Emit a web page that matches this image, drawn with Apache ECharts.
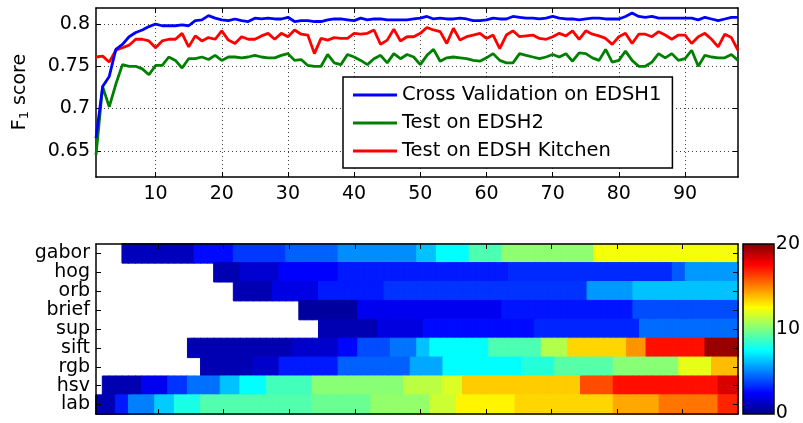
<!DOCTYPE html>
<html>
<head>
<meta charset="utf-8">
<script src="https://cdn.jsdelivr.net/npm/echarts@6/dist/echarts.min.js"></script>
<style>html,body{margin:0;padding:0;background:#fff}#c{width:803px;height:423px}</style>
</head>
<body>
<div id="c"></div>
<script>
// ---------- top panel data (F1 score per iteration, x = 1..98) ----------
const cvEDSH1 = [
0.665,0.726,0.738,0.770,0.776,0.785,0.790,0.793,0.797,0.800,
0.798,0.798,0.798,0.799,0.798,0.804,0.805,0.810,0.807,0.805,
0.804,0.806,0.804,0.803,0.807,0.806,0.807,0.806,0.806,0.808,
0.803,0.804,0.804,0.803,0.803,0.805,0.806,0.806,0.805,0.804,
0.807,0.805,0.806,0.806,0.805,0.805,0.805,0.805,0.806,0.807,
0.809,0.806,0.807,0.806,0.806,0.807,0.806,0.804,0.804,0.805,
0.807,0.806,0.806,0.809,0.808,0.807,0.807,0.806,0.807,0.809,
0.807,0.806,0.806,0.805,0.806,0.807,0.807,0.806,0.806,0.806,
0.809,0.813,0.809,0.808,0.809,0.807,0.807,0.807,0.807,0.807,
0.807,0.805,0.808,0.806,0.804,0.806,0.808,0.808];
const testEDSH2 = [
0.645,0.726,0.702,0.729,0.752,0.750,0.750,0.747,0.740,0.751,
0.751,0.761,0.757,0.748,0.759,0.759,0.761,0.758,0.763,0.757,
0.761,0.761,0.760,0.761,0.763,0.761,0.760,0.760,0.763,0.765,
0.757,0.758,0.751,0.750,0.750,0.764,0.754,0.752,0.764,0.761,
0.757,0.752,0.759,0.763,0.754,0.765,0.759,0.764,0.761,0.752,
0.763,0.770,0.756,0.760,0.761,0.760,0.759,0.757,0.756,0.760,
0.765,0.757,0.754,0.754,0.765,0.763,0.761,0.759,0.761,0.764,
0.761,0.765,0.756,0.766,0.765,0.760,0.757,0.770,0.755,0.757,
0.768,0.757,0.750,0.750,0.755,0.765,0.760,0.765,0.757,0.759,
0.769,0.750,0.763,0.761,0.760,0.760,0.764,0.757];
const testKitchen = [
0.761,0.762,0.755,0.769,0.772,0.775,0.782,0.782,0.780,0.772,
0.780,0.782,0.782,0.789,0.773,0.786,0.780,0.784,0.782,0.792,
0.781,0.777,0.785,0.782,0.782,0.786,0.789,0.782,0.789,0.785,
0.793,0.788,0.787,0.765,0.783,0.781,0.784,0.783,0.783,0.789,
0.788,0.789,0.793,0.776,0.781,0.794,0.780,0.785,0.785,0.789,
0.796,0.793,0.791,0.777,0.795,0.781,0.785,0.787,0.789,0.783,
0.787,0.771,0.787,0.792,0.785,0.786,0.787,0.783,0.782,0.785,
0.789,0.786,0.792,0.782,0.792,0.788,0.786,0.783,0.776,0.785,
0.789,0.777,0.788,0.788,0.785,0.791,0.787,0.782,0.787,0.787,
0.777,0.785,0.789,0.782,0.773,0.788,0.784,0.769];
const seriesNames = ['Cross Validation on EDSH1','Test on EDSH2','Test on EDSH Kitchen'];
const xTickValues = [10,20,30,40,50,60,70,80,90];
const yTickValues = [0.65,0.7,0.75,0.8];

// ---------- bottom panel data (heat values per feature, columns 1..98) ----------
const rowNames = ['gabor','hog','orb','brief','sup','sift','rgb','hsv','lab'];
const gabor = [
null,null,null,null,1.2,1.2,1.2,1.2,1.2,1.2,
1.2,1.2,1.2,1.2,1.2,2.7,2.7,2.7,2.7,2.7,
2.7,3.6,3.6,3.6,3.6,3.6,3.6,3.6,3.6,4.4,
4.4,4.4,4.4,4.4,4.4,4.4,4.4,5.3,5.3,5.3,
5.3,5.3,5.3,5.3,5.3,5.3,5.3,5.3,5.3,6.3,
6.3,6.3,7.5,7.5,7.5,7.5,7.5,9,9,9,
9,9,10.3,10.3,10.3,10.3,10.3,10.3,10.3,10.3,
10.3,10.3,10.3,10.3,10.3,10.3,12.3,12.3,12.3,12.3,
12.3,12.3,12.3,12.3,12.3,12.3,12.3,12.3,12.3,12.3,
12.3,12.3,12.3,12.3,12.3,12.3,12.3,12.3];
const hog = [
null,null,null,null,null,null,null,null,null,null,
null,null,null,null,null,null,null,null,1.0,1.0,
1.0,1.0,1.6,1.6,1.6,1.6,1.6,1.6,2.5,2.5,
2.5,2.5,2.5,2.5,2.5,2.5,2.5,3.0,3.0,3.0,
3.0,3.0,3.0,3.0,3.0,3.0,3.0,3.0,3.0,3.0,
3.0,3.0,3.0,3.0,3.0,3.0,3.0,3.0,3.0,3.0,
3.0,3.0,3.0,3.3,3.3,3.3,3.3,3.3,3.3,3.3,
3.3,3.3,3.3,3.3,3.3,3.3,3.3,3.3,3.3,3.3,
3.3,3.3,3.3,3.3,3.3,3.3,3.3,3.3,4.3,4.3,
5.5,5.5,5.5,5.5,5.5,5.5,5.5,5.5];
const orb = [
null,null,null,null,null,null,null,null,null,null,
null,null,null,null,null,null,null,null,null,null,
null,1.0,1.0,1.0,1.0,1.0,1.0,2.0,2.0,2.0,
2.0,2.0,2.0,2.0,3.0,3.0,3.0,3.0,3.0,3.0,
3.0,3.0,3.0,3.0,3.5,3.5,3.5,3.5,3.5,3.5,
3.5,3.5,3.5,3.5,3.5,3.5,3.5,3.5,3.5,3.5,
3.5,3.5,3.5,3.5,3.5,3.5,3.5,3.5,3.5,3.5,
3.5,3.5,3.5,3.5,3.5,5.5,5.5,5.5,5.5,5.5,
5.5,5.5,6.3,6.3,6.3,6.3,6.3,6.3,6.3,6.3,
6.3,6.3,6.3,6.3,6.3,6.3,6.3,6.3];
const brief = [
null,null,null,null,null,null,null,null,null,null,
null,null,null,null,null,null,null,null,null,null,
null,null,null,null,null,null,null,null,null,null,
null,0.6,0.6,0.6,0.6,0.6,0.6,0.6,0.6,0.6,
2.2,2.2,2.2,2.2,2.2,2.2,2.2,2.2,2.2,2.2,
2.2,2.2,2.2,2.2,2.2,2.2,2.2,2.2,2.2,2.2,
2.2,2.2,2.9,2.9,2.9,2.9,2.9,2.9,2.9,2.9,
2.9,2.9,2.9,2.9,2.9,2.9,2.9,2.9,2.9,2.9,
2.9,2.9,4.0,4.0,4.0,4.0,4.0,4.0,4.0,4.0,
4.0,4.0,4.0,4.0,4.0,4.0,4.0,4.0];
const sup = [
null,null,null,null,null,null,null,null,null,null,
null,null,null,null,null,null,null,null,null,null,
null,null,null,null,null,null,null,null,null,null,
null,null,null,null,1.0,1.0,1.0,1.0,1.0,1.0,
1.0,1.0,1.0,1.9,1.9,1.9,1.9,1.9,1.9,1.9,
2.7,2.7,2.7,2.7,2.7,2.7,2.7,2.7,2.7,2.7,
2.7,2.7,2.7,2.7,2.7,2.7,2.7,3.2,3.2,3.2,
3.2,3.2,3.2,3.2,3.2,3.2,3.2,3.2,3.2,3.2,
3.2,3.2,3.2,4.6,4.6,4.6,4.6,4.6,4.6,4.6,
4.6,4.6,4.6,4.6,4.6,4.6,4.6,4.6];
const sift = [
null,null,null,null,null,null,null,null,null,null,
null,null,null,null,1.0,1.0,1.0,1.0,1.0,1.0,
1.0,1.0,1.0,1.0,1.0,1.0,1.0,1.0,1.0,1.0,
1.5,1.5,1.5,1.5,1.5,1.5,1.5,2.6,2.6,2.6,
4.0,4.0,4.0,4.0,4.0,4.8,4.8,4.8,4.8,6.3,
6.3,7.5,7.5,7.5,7.5,7.5,7.5,7.5,7.5,7.5,
9.0,9.0,9.0,9.0,9.0,9.0,9.0,9.0,11.0,11.0,
11.0,11.0,13.3,13.3,13.3,13.3,13.3,13.3,13.3,13.3,
13.3,14.6,14.6,14.6,17.2,17.2,17.2,17.2,17.2,17.2,
17.2,17.2,17.2,19.5,19.5,19.5,19.5,19.5];
const rgb = [
null,null,null,null,null,null,null,null,null,null,
null,null,null,null,null,null,1.0,1.0,1.0,1.0,
1.0,1.0,1.0,1.0,1.5,1.5,1.5,1.5,3.0,3.0,
3.0,3.0,3.0,3.0,3.0,3.0,3.0,4.4,4.4,4.4,
4.4,4.4,4.4,4.4,4.4,4.4,4.4,4.4,5.8,5.8,
5.8,5.8,5.8,7.5,7.5,7.5,7.5,7.5,7.5,7.5,
7.5,7.5,7.5,7.5,7.5,8.2,8.2,8.2,8.2,8.2,
9.2,9.2,9.2,9.2,9.2,9.2,9.2,9.2,9.2,10.2,
10.2,10.2,10.2,10.2,10.2,10.2,10.2,10.2,10.2,12.0,
12.0,12.0,12.0,12.0,13.8,13.8,13.8,13.8];
const hsv = [
null,1.0,1.0,1.0,1.0,1.0,1.0,2.2,2.2,2.2,
2.2,3.5,3.5,3.5,4.7,4.7,4.7,4.7,4.7,6.3,
6.3,6.3,7.5,7.5,7.5,7.5,8.8,8.8,8.8,8.8,
8.8,8.8,8.8,10.2,10.2,10.2,10.2,10.2,10.2,10.2,
10.2,10.2,10.2,10.2,10.2,10.2,10.2,11.2,11.2,11.2,
11.2,11.2,11.2,11.8,11.8,11.8,13.5,13.5,13.5,13.5,
13.5,13.5,13.5,13.5,13.5,13.5,13.5,13.5,13.5,13.5,
13.5,13.5,13.5,13.5,16.0,16.0,16.0,16.0,16.0,17.2,
17.2,17.2,17.2,17.2,17.2,17.2,17.2,17.2,17.2,17.2,
17.2,17.2,17.2,17.2,17.2,18.2,18.2,18.2];
const lab = [
1.0,1.0,1.0,3.0,3.0,5.0,5.0,5.0,5.0,6.5,
6.5,6.5,8.0,8.0,8.0,8.0,9.1,9.1,9.1,9.1,
9.1,9.1,9.1,9.1,9.1,9.1,9.1,9.1,9.1,9.1,
9.1,9.1,9.1,9.6,9.6,9.6,9.6,9.6,9.6,9.6,
9.6,9.6,10.4,10.4,10.4,10.4,10.4,10.4,10.4,10.4,
10.4,11.5,11.5,11.5,11.5,12.7,12.7,12.7,12.7,12.7,
12.7,12.7,12.7,12.7,13.3,13.3,13.3,13.3,13.3,13.3,
13.3,13.3,13.3,13.3,13.3,13.3,13.3,13.3,13.3,14.2,
14.2,14.2,14.2,14.2,14.2,14.2,15.2,15.2,15.2,15.2,
15.2,15.2,15.2,15.2,15.2,16.8,16.8,16.8];
const colorbarTicks = [0,10,20];

// ---------- build ----------
const FONT = 'DejaVu Sans';
const jet = ['#00007f','#0000ff','#007fff','#00ffff','#7fff7f','#ffff00','#ff7f00','#ff0000','#7f0000'];
const VMIN = 0, VMAX = 20;
// colour of a value on the same jet scale the visualMap uses (for seam-free cell borders)
function jetColor(v) {
  const t = Math.max(0, Math.min(1, (v - VMIN) / (VMAX - VMIN))) * (jet.length - 1);
  const i = Math.min(jet.length - 2, Math.floor(t)), f = t - i;
  const a = jet[i], b = jet[i + 1];
  const ch = (s, k) => parseInt(s.substr(1 + 2 * k, 2), 16);
  const mix = k => Math.round(ch(a, k) + (ch(b, k) - ch(a, k)) * f);
  return 'rgb(' + mix(0) + ',' + mix(1) + ',' + mix(2) + ')';
}
const heatRows = [gabor,hog,orb,brief,sup,sift,rgb,hsv,lab];
const nCols = gabor.length;
const colCats = [];
for (let c = 1; c <= nCols; c++) colCats.push(String(c));
const heatData = [];
heatRows.forEach((row, r) => row.forEach((v, c) => {
  if (v !== null) heatData.push({value:[c, r, v], itemStyle:{borderColor:jetColor(v), borderWidth:1}});
}));
const toXY = arr => arr.map((v, i) => [i + 1, v]);

const black = '#000';
const tickIn = {show:true, inside:true, length:5, lineStyle:{color:black, width:1}};

const chart = echarts.init(document.getElementById('c'), null, {renderer:'canvas'});
chart.setOption({
  backgroundColor:'#fff',
  animation:false,
  textStyle:{fontFamily:FONT},
  grid:[
    {left:96, top:8, width:642, height:169, show:false},
    {left:96, top:244, width:642, height:170, show:false},
    {left:743, top:244, width:31, height:170, show:false}
  ],
  xAxis:[
    {gridIndex:0, type:'value', min:1, max:98, position:'bottom',
     axisLine:{show:true, onZero:false, lineStyle:{color:black, width:1.5}},
     axisTick:Object.assign({customValues:xTickValues}, tickIn),
     axisLabel:{customValues:xTickValues, color:black, fontSize:19, margin:8, fontFamily:FONT},
     splitLine:{show:true, lineStyle:{color:'#444', width:1, type:[1,3]}}},
    {gridIndex:0, type:'value', min:1, max:98, position:'top',
     axisLine:{show:true, onZero:false, lineStyle:{color:black, width:1.5}},
     axisTick:Object.assign({customValues:xTickValues}, tickIn),
     axisLabel:{show:false}, splitLine:{show:false}},
    {gridIndex:1, type:'category', data:colCats, position:'bottom', z:5,
     axisLine:{show:true, onZero:false, lineStyle:{color:black, width:1.5}},
     axisTick:Object.assign({alignWithLabel:true, interval:(i)=>((i+1)%10===0)}, tickIn),
     axisLabel:{show:false}, splitLine:{show:false}},
    {gridIndex:1, type:'category', data:colCats, position:'top', z:5,
     axisLine:{show:true, onZero:false, lineStyle:{color:black, width:1.5}},
     axisTick:Object.assign({alignWithLabel:true, interval:(i)=>((i+1)%10===0)}, tickIn),
     axisLabel:{show:false}, splitLine:{show:false}},
    {gridIndex:2, type:'value', show:false, min:0, max:1}
  ],
  yAxis:[
    {gridIndex:0, type:'value', min:0.619, max:0.819, position:'left',
     axisLine:{show:true, onZero:false, lineStyle:{color:black, width:1.5}},
     axisTick:Object.assign({customValues:yTickValues}, tickIn),
     axisLabel:{customValues:yTickValues, color:black, fontSize:19, margin:6, fontFamily:FONT},
     splitLine:{show:true, lineStyle:{color:'#444', width:1, type:[1,3]}}},
    {gridIndex:0, type:'value', min:0.619, max:0.819, position:'right',
     axisLine:{show:true, onZero:false, lineStyle:{color:black, width:1.5}},
     axisTick:Object.assign({customValues:yTickValues}, tickIn),
     axisLabel:{show:false}, splitLine:{show:false}},
    {gridIndex:1, type:'category', data:rowNames, inverse:true, position:'left', z:5,
     axisLine:{show:true, onZero:false, lineStyle:{color:black, width:1.5}},
     axisTick:Object.assign({alignWithLabel:true}, tickIn),
     axisLabel:{color:black, fontSize:19, margin:6, fontFamily:FONT, interval:0},
     splitLine:{show:false}},
    {gridIndex:1, type:'category', data:rowNames, inverse:true, position:'right', z:5,
     axisLine:{show:true, onZero:false, lineStyle:{color:black, width:1.5}},
     axisTick:Object.assign({alignWithLabel:true}, tickIn),
     axisLabel:{show:false}, splitLine:{show:false}},
    {gridIndex:2, type:'value', min:VMIN, max:VMAX, position:'right',
     axisLine:{show:false}, axisTick:{show:false}, splitLine:{show:false},
     axisLabel:{customValues:colorbarTicks, color:black, fontSize:19, margin:4, fontFamily:FONT}}
  ],
  legend:{
    show:true, orient:'vertical', left:343, top:77,
    icon:'rect', itemWidth:44, itemHeight:3, itemGap:8,
    padding:[8,11,7,10],
    borderColor:black, borderWidth:1.5, backgroundColor:'#fff', borderRadius:0,
    textStyle:{fontSize:19.5, color:black, fontFamily:FONT, lineHeight:20},
    data:seriesNames
  },
  visualMap:{show:false, type:'continuous', min:VMIN, max:VMAX, seriesIndex:3, inRange:{color:jet}},
  series:[
    {name:seriesNames[0], type:'line', xAxisIndex:0, yAxisIndex:0, data:toXY(cvEDSH1),
     showSymbol:false, symbol:'none', lineStyle:{color:'#0000ff', width:2.8}, itemStyle:{color:'#0000ff'}, z:4},
    {name:seriesNames[1], type:'line', xAxisIndex:0, yAxisIndex:0, data:toXY(testEDSH2),
     showSymbol:false, symbol:'none', lineStyle:{color:'#008000', width:2.8}, itemStyle:{color:'#008000'}, z:3},
    {name:seriesNames[2], type:'line', xAxisIndex:0, yAxisIndex:0, data:toXY(testKitchen),
     showSymbol:false, symbol:'none', lineStyle:{color:'#ff0000', width:2.8}, itemStyle:{color:'#ff0000'}, z:3},
    {name:'features', type:'heatmap', xAxisIndex:2, yAxisIndex:2, data:heatData,
     emphasis:{disabled:true}, progressive:0}
  ],
  graphic:[
    {type:'rect', z:10, shape:{x:743, y:244, width:31, height:170},
     style:{stroke:black, lineWidth:1.5,
       fill:new echarts.graphic.LinearGradient(0,1,0,0, jet.map((c,i)=>({offset:i/(jet.length-1), color:c})))}},
    {type:'text', z:10, x:20, y:92, rotation:Math.PI/2,
     style:{text:'{a|F}{b|1}{a| score}', align:'center', verticalAlign:'middle', fill:black,
       rich:{a:{fontSize:19, fontFamily:FONT, fill:black}, b:{fontSize:13, fontFamily:FONT, fill:black, padding:[10,0,0,0]}}}}
  ]
});
</script>
</body>
</html>
